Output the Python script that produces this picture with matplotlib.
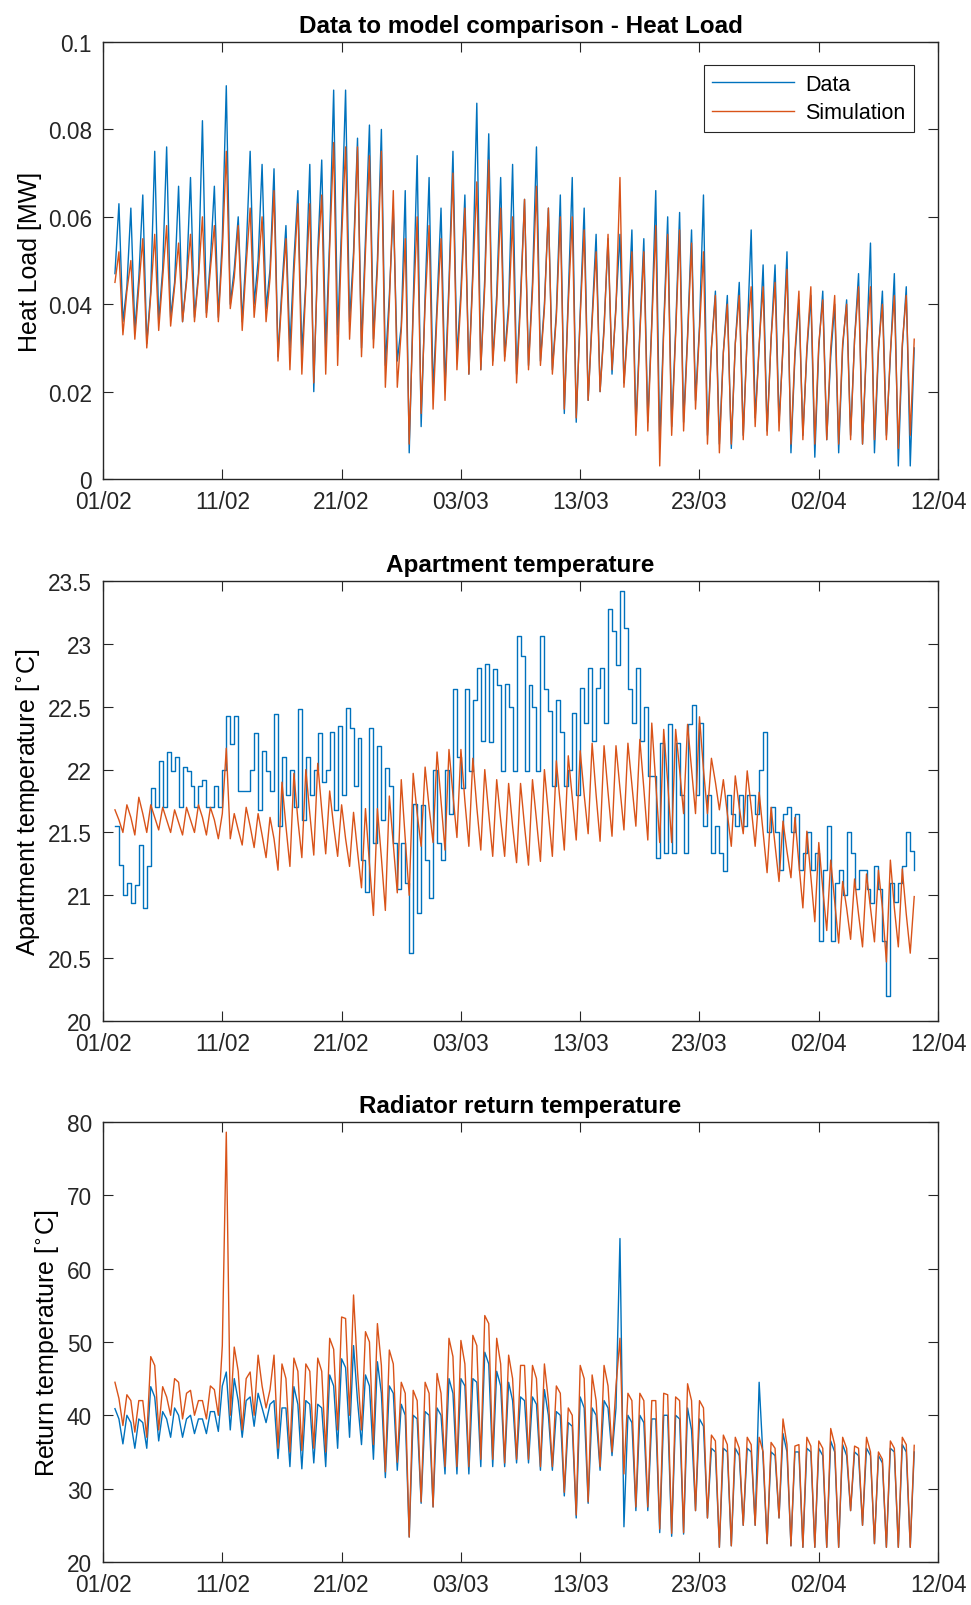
import numpy as np
import pandas as pd
import matplotlib
matplotlib.use('Agg')
import matplotlib.pyplot as plt
import matplotlib.dates as mdates
import matplotlib.ticker as mticker

plt.rcParams['font.family'] = ['Liberation Sans', 'DejaVu Sans']

# samples every 8 hours from 02/02 (3 per day)
start = '2017-02-02'

heat_data = [
    0.047, 0.063, 0.036, 0.044, 0.062, 0.034, 0.046, 0.065, 0.031, 0.043, 0.075, 0.036, 0.048, 0.076, 0.037,
    0.045, 0.067, 0.036, 0.046, 0.069, 0.037, 0.047, 0.082, 0.038, 0.050, 0.067, 0.037, 0.055, 0.090, 0.040,
    0.048, 0.060, 0.036, 0.052, 0.075, 0.040, 0.050, 0.072, 0.039, 0.048, 0.071, 0.028, 0.044, 0.058, 0.030,
    0.050, 0.066, 0.029, 0.045, 0.072, 0.020, 0.052, 0.073, 0.030, 0.055, 0.089, 0.033, 0.058, 0.089, 0.036,
    0.052, 0.078, 0.030, 0.055, 0.081, 0.032, 0.050, 0.080, 0.026, 0.042, 0.062, 0.027, 0.035, 0.066, 0.006,
    0.040, 0.074, 0.012, 0.042, 0.069, 0.020, 0.040, 0.062, 0.021, 0.045, 0.075, 0.028, 0.043, 0.065, 0.024,
    0.048, 0.086, 0.025, 0.046, 0.079, 0.027, 0.042, 0.069, 0.028, 0.040, 0.072, 0.024, 0.042, 0.064, 0.026,
    0.045, 0.076, 0.027, 0.040, 0.062, 0.025, 0.038, 0.065, 0.015, 0.042, 0.069, 0.013, 0.038, 0.062, 0.018,
    0.037, 0.056, 0.020, 0.035, 0.055, 0.024, 0.040, 0.056, 0.022, 0.036, 0.057, 0.012, 0.034, 0.055, 0.013,
    0.036, 0.066, 0.008, 0.035, 0.060, 0.012, 0.034, 0.061, 0.013, 0.033, 0.057, 0.018, 0.035, 0.065, 0.010,
    0.030, 0.043, 0.008, 0.029, 0.042, 0.007, 0.031, 0.045, 0.010, 0.033, 0.057, 0.014, 0.030, 0.049, 0.011,
    0.032, 0.049, 0.013, 0.030, 0.052, 0.006, 0.028, 0.041, 0.010, 0.029, 0.042, 0.005, 0.030, 0.043, 0.009,
    0.028, 0.040, 0.006, 0.030, 0.041, 0.010, 0.032, 0.047, 0.008, 0.030, 0.054, 0.006, 0.029, 0.043, 0.010,
    0.028, 0.047, 0.003, 0.030, 0.044, 0.003,
    0.030,
]

heat_sim = [
    0.045, 0.052, 0.033, 0.043, 0.050, 0.032, 0.044, 0.055, 0.030, 0.042, 0.056, 0.034, 0.046, 0.058, 0.035,
    0.044, 0.054, 0.036, 0.045, 0.056, 0.036, 0.046, 0.060, 0.037, 0.048, 0.058, 0.036, 0.052, 0.075, 0.039,
    0.046, 0.058, 0.034, 0.049, 0.062, 0.037, 0.047, 0.060, 0.036, 0.046, 0.066, 0.027, 0.042, 0.055, 0.025,
    0.047, 0.063, 0.024, 0.044, 0.063, 0.022, 0.050, 0.065, 0.024, 0.053, 0.077, 0.026, 0.055, 0.076, 0.032,
    0.050, 0.076, 0.028, 0.052, 0.074, 0.030, 0.048, 0.075, 0.021, 0.040, 0.066, 0.021, 0.034, 0.055, 0.008,
    0.038, 0.060, 0.015, 0.040, 0.058, 0.016, 0.038, 0.055, 0.018, 0.043, 0.070, 0.025, 0.041, 0.062, 0.024,
    0.046, 0.068, 0.025, 0.044, 0.073, 0.026, 0.040, 0.062, 0.027, 0.038, 0.060, 0.022, 0.040, 0.064, 0.025,
    0.043, 0.067, 0.026, 0.039, 0.062, 0.024, 0.037, 0.060, 0.016, 0.040, 0.060, 0.014, 0.037, 0.057, 0.018,
    0.036, 0.052, 0.020, 0.034, 0.056, 0.025, 0.039, 0.069, 0.021, 0.035, 0.052, 0.010, 0.033, 0.052, 0.011,
    0.035, 0.058, 0.003, 0.034, 0.056, 0.010, 0.033, 0.057, 0.011, 0.032, 0.054, 0.016, 0.034, 0.052, 0.008,
    0.030, 0.042, 0.006, 0.029, 0.040, 0.008, 0.031, 0.042, 0.009, 0.033, 0.044, 0.012, 0.031, 0.044, 0.010,
    0.032, 0.045, 0.011, 0.031, 0.048, 0.008, 0.029, 0.043, 0.009, 0.030, 0.044, 0.008, 0.031, 0.041, 0.009,
    0.030, 0.042, 0.008, 0.031, 0.040, 0.009, 0.032, 0.044, 0.008, 0.031, 0.044, 0.009, 0.030, 0.040, 0.009,
    0.029, 0.042, 0.007, 0.031, 0.042, 0.010,
    0.032,
]

apt_data = [
    21.55, 21.24, 21.00, 21.10, 20.94, 21.08, 21.40, 20.90, 21.23, 21.85, 21.70, 22.07, 21.70, 22.14, 21.99,
    22.10, 21.70, 22.02, 21.99, 21.87, 21.70, 21.87, 21.92, 21.70, 21.70, 21.87, 21.70, 22.00, 22.43, 22.20,
    22.43, 21.83, 21.83, 21.83, 22.00, 22.29, 21.68, 22.15, 21.99, 21.83, 22.44, 21.55, 22.10, 21.80, 22.00,
    21.70, 22.48, 21.60, 22.10, 21.80, 22.00, 22.29, 21.90, 22.00, 22.30, 21.68, 22.35, 21.80, 22.49, 22.33,
    21.87, 22.25, 21.28, 21.03, 22.33, 21.42, 22.19, 21.60, 22.01, 21.87, 21.42, 21.05, 21.42, 21.10, 20.54,
    21.73, 20.86, 21.72, 21.28, 20.98, 22.00, 21.42, 21.28, 22.00, 21.65, 22.64, 22.10, 21.85, 22.64, 21.99,
    22.55, 22.81, 22.23, 22.84, 22.22, 22.80, 22.67, 21.99, 22.68, 22.50, 21.99, 23.06, 22.90, 21.99, 22.67,
    22.50, 21.99, 23.06, 22.64, 22.47, 21.87, 22.55, 22.30, 21.87, 22.00, 22.45, 21.80, 22.65, 22.37, 22.81,
    22.23, 22.65, 22.81, 22.37, 23.28, 23.10, 22.83, 23.42, 23.13, 22.64, 22.37, 22.81, 22.23, 22.50, 21.95,
    21.95, 21.30, 22.21, 21.34, 22.36, 21.34, 22.21, 21.80, 21.34, 22.36, 22.51, 21.80, 22.37, 21.55, 21.80,
    21.34, 21.55, 21.34, 21.19, 21.80, 21.65, 21.55, 21.80, 21.55, 21.80, 21.80, 21.65, 22.00, 22.30, 21.50,
    21.70, 21.50, 21.20, 21.65, 21.70, 21.50, 21.65, 21.20, 21.34, 21.50, 21.20, 21.34, 20.64, 21.20, 21.55,
    20.64, 21.10, 21.20, 21.00, 21.50, 21.34, 21.05, 21.20, 21.20, 21.05, 20.94, 21.23, 21.05, 20.64, 20.20,
    21.10, 20.95, 21.10, 21.23, 21.50, 21.35,
    21.20,
]

apt_sim = [
    21.68, 21.60, 21.50, 21.72, 21.62, 21.48, 21.78, 21.65, 21.50, 21.72, 21.62, 21.52, 21.70, 21.60, 21.50,
    21.68, 21.58, 21.48, 21.70, 21.60, 21.50, 21.72, 21.62, 21.48, 21.70, 21.60, 21.45, 21.65, 22.17, 21.45,
    21.65, 21.52, 21.40, 21.70, 21.55, 21.38, 21.65, 21.48, 21.30, 21.62, 21.45, 21.20, 21.90, 21.55, 21.23,
    21.97, 21.60, 21.30, 22.00, 21.65, 21.32, 22.05, 21.68, 21.33, 21.83, 21.55, 21.31, 21.72, 21.45, 21.23,
    21.66, 21.35, 21.06, 21.69, 21.25, 20.84, 21.69, 21.30, 20.88, 21.79, 21.40, 21.02, 21.92, 21.45, 21.00,
    21.97, 21.65, 21.39, 22.02, 21.70, 21.42, 22.14, 21.75, 21.36, 22.16, 21.80, 21.46, 22.16, 21.75, 21.39,
    22.09, 21.70, 21.36, 22.00, 21.65, 21.31, 21.92, 21.60, 21.31, 21.89, 21.55, 21.26, 21.89, 21.55, 21.24,
    21.92, 21.60, 21.27, 22.00, 21.65, 21.31, 22.07, 21.72, 21.36, 22.11, 21.78, 21.44, 22.15, 21.80, 21.49,
    22.21, 21.80, 21.43, 22.19, 21.82, 21.47, 22.19, 21.85, 21.52, 22.21, 21.88, 21.55, 22.24, 21.85, 21.44,
    22.37, 21.90, 21.42, 22.32, 21.90, 21.42, 22.32, 22.00, 21.65, 22.36, 22.00, 21.65, 22.42, 22.00, 21.65,
    22.09, 21.90, 21.68, 21.92, 21.65, 21.39, 21.95, 21.70, 21.49, 21.99, 21.70, 21.39, 21.82, 21.50, 21.18,
    21.70, 21.40, 21.11, 21.59, 21.35, 21.14, 21.62, 21.25, 20.90, 21.51, 21.15, 20.79, 21.42, 21.05, 20.72,
    21.28, 20.95, 20.62, 21.11, 20.90, 20.65, 21.13, 20.85, 20.59, 21.17, 20.90, 20.63, 21.20, 20.90, 20.47,
    21.28, 20.90, 20.59, 21.21, 20.85, 20.54,
    20.99,
]

ret_data = [
    40.9, 39.5, 36.1, 40.0, 39.0, 35.5, 39.5, 39.0, 35.5, 43.9, 42.5, 36.5, 40.5, 39.5, 37.0,
    41.0, 40.0, 37.0, 39.5, 40.0, 37.5, 39.5, 39.5, 37.5, 40.5, 40.5, 37.8, 44.0, 45.9, 38.0,
    45.0, 42.0, 37.0, 42.0, 42.5, 38.5, 43.0, 41.0, 39.0, 41.5, 42.0, 34.1, 41.0, 41.0, 33.0,
    43.9, 41.5, 32.7, 42.0, 41.5, 33.5, 41.5, 41.0, 33.0, 45.5, 44.0, 35.5, 47.7, 46.5, 37.0,
    49.5, 42.0, 36.0, 45.5, 44.0, 34.0, 47.3, 43.0, 31.5, 44.0, 43.0, 32.5, 41.5, 40.0, 23.4,
    40.0, 39.5, 28.0, 40.5, 40.0, 27.5, 41.0, 40.0, 32.0, 45.0, 43.0, 32.0, 45.0, 44.0, 32.0,
    45.0, 44.5, 33.0, 48.6, 47.0, 33.0, 46.0, 44.0, 33.0, 44.5, 42.0, 33.5, 42.5, 42.0, 33.5,
    42.5, 41.5, 32.5, 43.5, 40.0, 32.5, 40.5, 40.0, 29.0, 39.0, 38.5, 26.0, 42.5, 41.0, 28.0,
    41.0, 40.0, 32.5, 42.0, 41.0, 34.5, 41.0, 64.1, 24.8, 40.0, 39.0, 27.0, 40.0, 39.0, 27.0,
    39.5, 39.5, 24.0, 40.0, 40.0, 23.5, 40.0, 39.5, 23.8, 41.0, 38.0, 27.0, 39.5, 38.5, 26.0,
    35.5, 35.0, 22.0, 35.5, 35.0, 22.2, 35.5, 34.5, 25.0, 35.5, 35.0, 25.0, 44.5, 34.0, 22.5,
    35.0, 34.5, 26.0, 37.5, 35.0, 22.2, 35.0, 35.0, 22.0, 35.5, 35.0, 22.0, 35.5, 34.5, 22.0,
    36.5, 35.0, 22.0, 36.0, 34.5, 27.0, 35.0, 34.5, 25.0, 35.5, 34.5, 22.5, 34.5, 33.5, 22.0,
    35.5, 35.0, 22.0, 36.0, 35.0, 22.0,
    35.0,
]

ret_sim = [
    44.5, 42.3, 38.6, 42.8, 42.0, 37.7, 42.0, 42.0, 37.0, 48.0, 46.8, 38.0, 43.9, 42.5, 40.0,
    45.0, 44.5, 39.5, 43.0, 43.4, 40.0, 42.0, 42.0, 39.5, 44.0, 43.5, 40.0, 49.5, 78.6, 40.0,
    49.3, 46.0, 38.0, 45.0, 45.9, 40.0, 48.2, 44.0, 41.0, 43.5, 48.2, 35.5, 47.0, 45.0, 35.0,
    47.8, 46.0, 35.2, 47.0, 46.0, 35.5, 47.8, 46.0, 35.0, 50.5, 49.0, 38.0, 53.4, 53.2, 40.0,
    56.4, 46.0, 38.0, 51.4, 50.0, 36.0, 52.5, 46.8, 32.3, 48.9, 47.0, 33.6, 44.5, 43.0, 23.4,
    43.4, 42.0, 28.2, 44.5, 43.0, 27.5, 45.7, 43.0, 33.0, 50.5, 48.0, 33.0, 50.2, 47.0, 33.0,
    50.9, 49.5, 34.0, 53.6, 52.5, 34.0, 50.5, 47.0, 33.5, 48.2, 45.0, 34.0, 46.8, 46.8, 34.0,
    46.8, 45.0, 33.0, 47.0, 42.0, 33.0, 44.0, 43.0, 29.5, 41.0, 40.0, 26.4, 46.8, 45.0, 28.2,
    45.5, 42.0, 33.0, 46.8, 44.0, 35.0, 44.0, 50.5, 32.0, 43.0, 42.0, 27.5, 43.0, 42.0, 27.5,
    42.0, 42.0, 24.5, 43.0, 42.8, 23.9, 42.5, 42.0, 24.0, 44.3, 42.0, 27.0, 42.0, 41.0, 26.0,
    37.3, 36.5, 22.0, 37.3, 36.0, 22.2, 37.0, 35.5, 25.0, 37.0, 36.0, 25.0, 37.0, 35.0, 22.5,
    36.3, 35.5, 26.0, 39.5, 36.0, 22.2, 35.8, 36.0, 22.0, 37.0, 35.8, 22.0, 36.5, 35.5, 22.0,
    38.2, 36.0, 22.0, 37.0, 35.5, 27.0, 35.8, 35.5, 25.0, 37.0, 35.0, 22.5, 35.0, 34.0, 22.0,
    36.5, 35.5, 22.0, 37.0, 36.0, 22.0,
    35.9,
]

titles = ['Data to model comparison - Heat Load', 'Apartment temperature', 'Radiator return temperature']
ylabels = ['Heat Load [MW]', 'Apartment temperature [$^{\\circ}$C]', 'Return temperature [$^{\\circ}$C]']

blue = '#0072BD'
orange = '#D95319'
dark = '#262626'


def times(values):
    return pd.date_range(start, periods=len(values), freq='8h')


fig = plt.figure(figsize=(9.71, 16.06), dpi=100)
boxes = [[0.1061, 0.7011, 0.8600, 0.2721],
         [0.1061, 0.3636, 0.8600, 0.2740],
         [0.1061, 0.0268, 0.8600, 0.2740]]
axes = [fig.add_axes(b) for b in boxes]

ax1, ax2, ax3 = axes
ax1.plot(times(heat_data), heat_data, color=blue, lw=1.0, label='Data')
ax1.plot(times(heat_sim), heat_sim, color=orange, lw=1.0, label='Simulation')
ax2.plot(times(apt_data), apt_data, color=blue, lw=1.0, drawstyle='steps-post')
ax2.plot(times(apt_sim), apt_sim, color=orange, lw=1.0)
ax3.plot(times(ret_data), ret_data, color=blue, lw=1.0)
ax3.plot(times(ret_sim), ret_sim, color=orange, lw=1.0)

ax1.set_ylim(0, 0.1)
ax1.set_yticks([0, 0.02, 0.04, 0.06, 0.08, 0.1])
ax1.set_yticklabels(['0', '0.02', '0.04', '0.06', '0.08', '0.1'])
ax2.set_ylim(20, 23.5)
ax2.set_yticks(np.arange(20, 23.6, 0.5))
ax2.set_yticklabels(['20', '20.5', '21', '21.5', '22', '22.5', '23', '23.5'])
ax3.set_ylim(20, 80)
ax3.set_yticks(range(20, 81, 10))

xticks = pd.date_range('2017-02-01', '2017-04-12', freq='10D')
for ax, title, ylab in zip(axes, titles, ylabels):
    ax.set_xlim(pd.Timestamp('2017-02-01'), pd.Timestamp('2017-04-12'))
    ax.set_xticks(xticks)
    ax.xaxis.set_major_formatter(mdates.DateFormatter('%d/%m'))
    ax.set_title(title, fontsize=17.5, fontweight='bold', pad=7)
    ax.set_ylabel(ylab, fontsize=18)
    ax.tick_params(direction='in', length=7, width=0.8, top=True, right=True,
                   labelsize=16.3, pad=8, color=dark, labelcolor=dark)
    for s in ax.spines.values():
        s.set_color(dark)
        s.set_linewidth(1.0)

leg = ax1.legend(loc='upper right', bbox_to_anchor=(0.971, 0.947), borderaxespad=0,
                 fontsize=15.5, fancybox=False, edgecolor=dark, framealpha=1,
                 handlelength=3.8, handletextpad=0.5, labelspacing=0.35, borderpad=0.4)
leg.get_frame().set_linewidth(0.8)

fig.savefig('out.png', dpi=100)
